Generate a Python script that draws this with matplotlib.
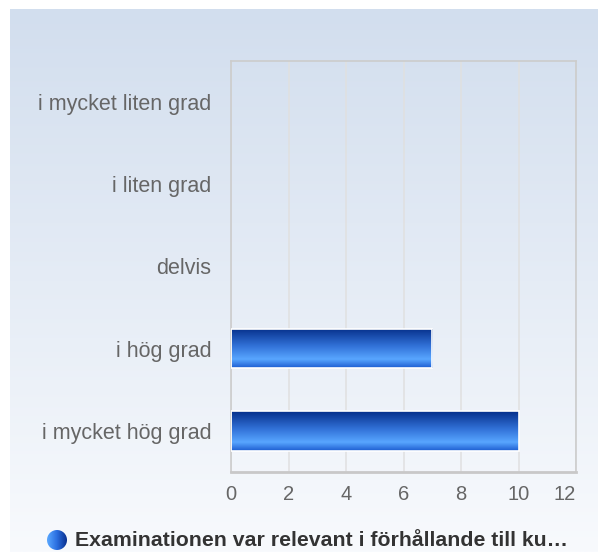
import numpy as np
import matplotlib
matplotlib.use('Agg')
import matplotlib.pyplot as plt
from matplotlib.colors import LinearSegmentedColormap
from matplotlib.patches import Circle

plt.rcParams['font.family'] = ['Liberation Sans', 'DejaVu Sans']

categories = ['i mycket liten grad', 'i liten grad', 'delvis', 'i hög grad', 'i mycket hög grad']
values = [0, 0, 0, 7, 10]
x_ticks = [0, 2, 4, 6, 8, 10, 12]
legend_label = 'Examinationen var relevant i förhållande till ku…'

W, H = 598, 552
fig = plt.figure(figsize=(W / 100, H / 100), dpi=100, facecolor='white')

# background panel with vertical gradient
bg = fig.add_axes([10 / W, 0, (W - 10) / W, (H - 9) / H])
bg_cmap = LinearSegmentedColormap.from_list('bg', ['#f8fafd', '#d2deee'])
bg.imshow(np.linspace(0, 1, 256).reshape(-1, 1), cmap=bg_cmap, aspect='auto',
          origin='lower', extent=[0, 1, 0, 1])
bg.set_axis_off()

# main plot area
left, right, top, bottom = 231, 576, 61, 472
ax = fig.add_axes([left / W, (H - bottom) / H, (right - left) / W, (bottom - top) / H])
ax.set_facecolor('none')

ypos = np.arange(len(categories))[::-1]
bar_h = 0.48
bars = ax.barh(ypos, values, height=bar_h, color='none', edgecolor='white',
               linewidth=1.2, zorder=3)

bar_cmap = LinearSegmentedColormap.from_list(
    'bar', [(0, '#1c5cd0'), (0.22, '#58a6ff'), (0.55, '#3272d8'), (1, '#062f8a')])
grad = np.linspace(0, 1, 256).reshape(-1, 1)
for b in bars:
    if b.get_width() <= 0:
        b.set_visible(False)
        continue
    x0, y0 = b.get_x(), b.get_y()
    im = ax.imshow(grad, cmap=bar_cmap, aspect='auto', origin='lower',
                   extent=[x0, x0 + b.get_width(), y0, y0 + b.get_height()], zorder=2)
    im.set_clip_path(b)

ax.set_xlim(0, 12)
ax.set_ylim(-0.5, len(categories) - 0.5)
ax.set_xticks(x_ticks)
ax.set_yticks(ypos)
ax.set_yticklabels(categories)
ax.grid(axis='x', color='#e0e0e0', linewidth=1.1, zorder=0)
ax.tick_params(axis='y', length=0, labelsize=15.5, labelcolor='#666666', pad=14)
ax.tick_params(axis='x', length=0, labelsize=14.5, labelcolor='#666666', pad=9)
ax.get_xticklabels()[-1].set_horizontalalignment('right')
for side in ['top', 'right', 'left']:
    ax.spines[side].set_color('#cccccc')
    ax.spines[side].set_linewidth(1.2)
ax.spines['bottom'].set_color('#c8c8c8')
ax.spines['bottom'].set_linewidth(2)

# legend
lax = fig.add_axes([0, 0, 1, 1])
lax.set_xlim(0, W)
lax.set_ylim(H, 0)
lax.set_axis_off()
circ = Circle((57, 540), 10, facecolor='none', edgecolor='none')
lax.add_patch(circ)
leg_cmap = LinearSegmentedColormap.from_list('leg', ['#5aa8ff', '#2a6ee0', '#0a3190'])
gim = lax.imshow(np.linspace(0, 1, 64).reshape(1, -1), cmap=leg_cmap, aspect='auto',
                 extent=[47, 67, 550, 530])
gim.set_clip_path(circ)
lax.set_xlim(0, W)
lax.set_ylim(H, 0)
lax.text(75, 541, legend_label, fontsize=15.3, fontweight='bold', color='#333333',
         va='center', ha='left')

fig.savefig('out.png', dpi=100, facecolor='white')
